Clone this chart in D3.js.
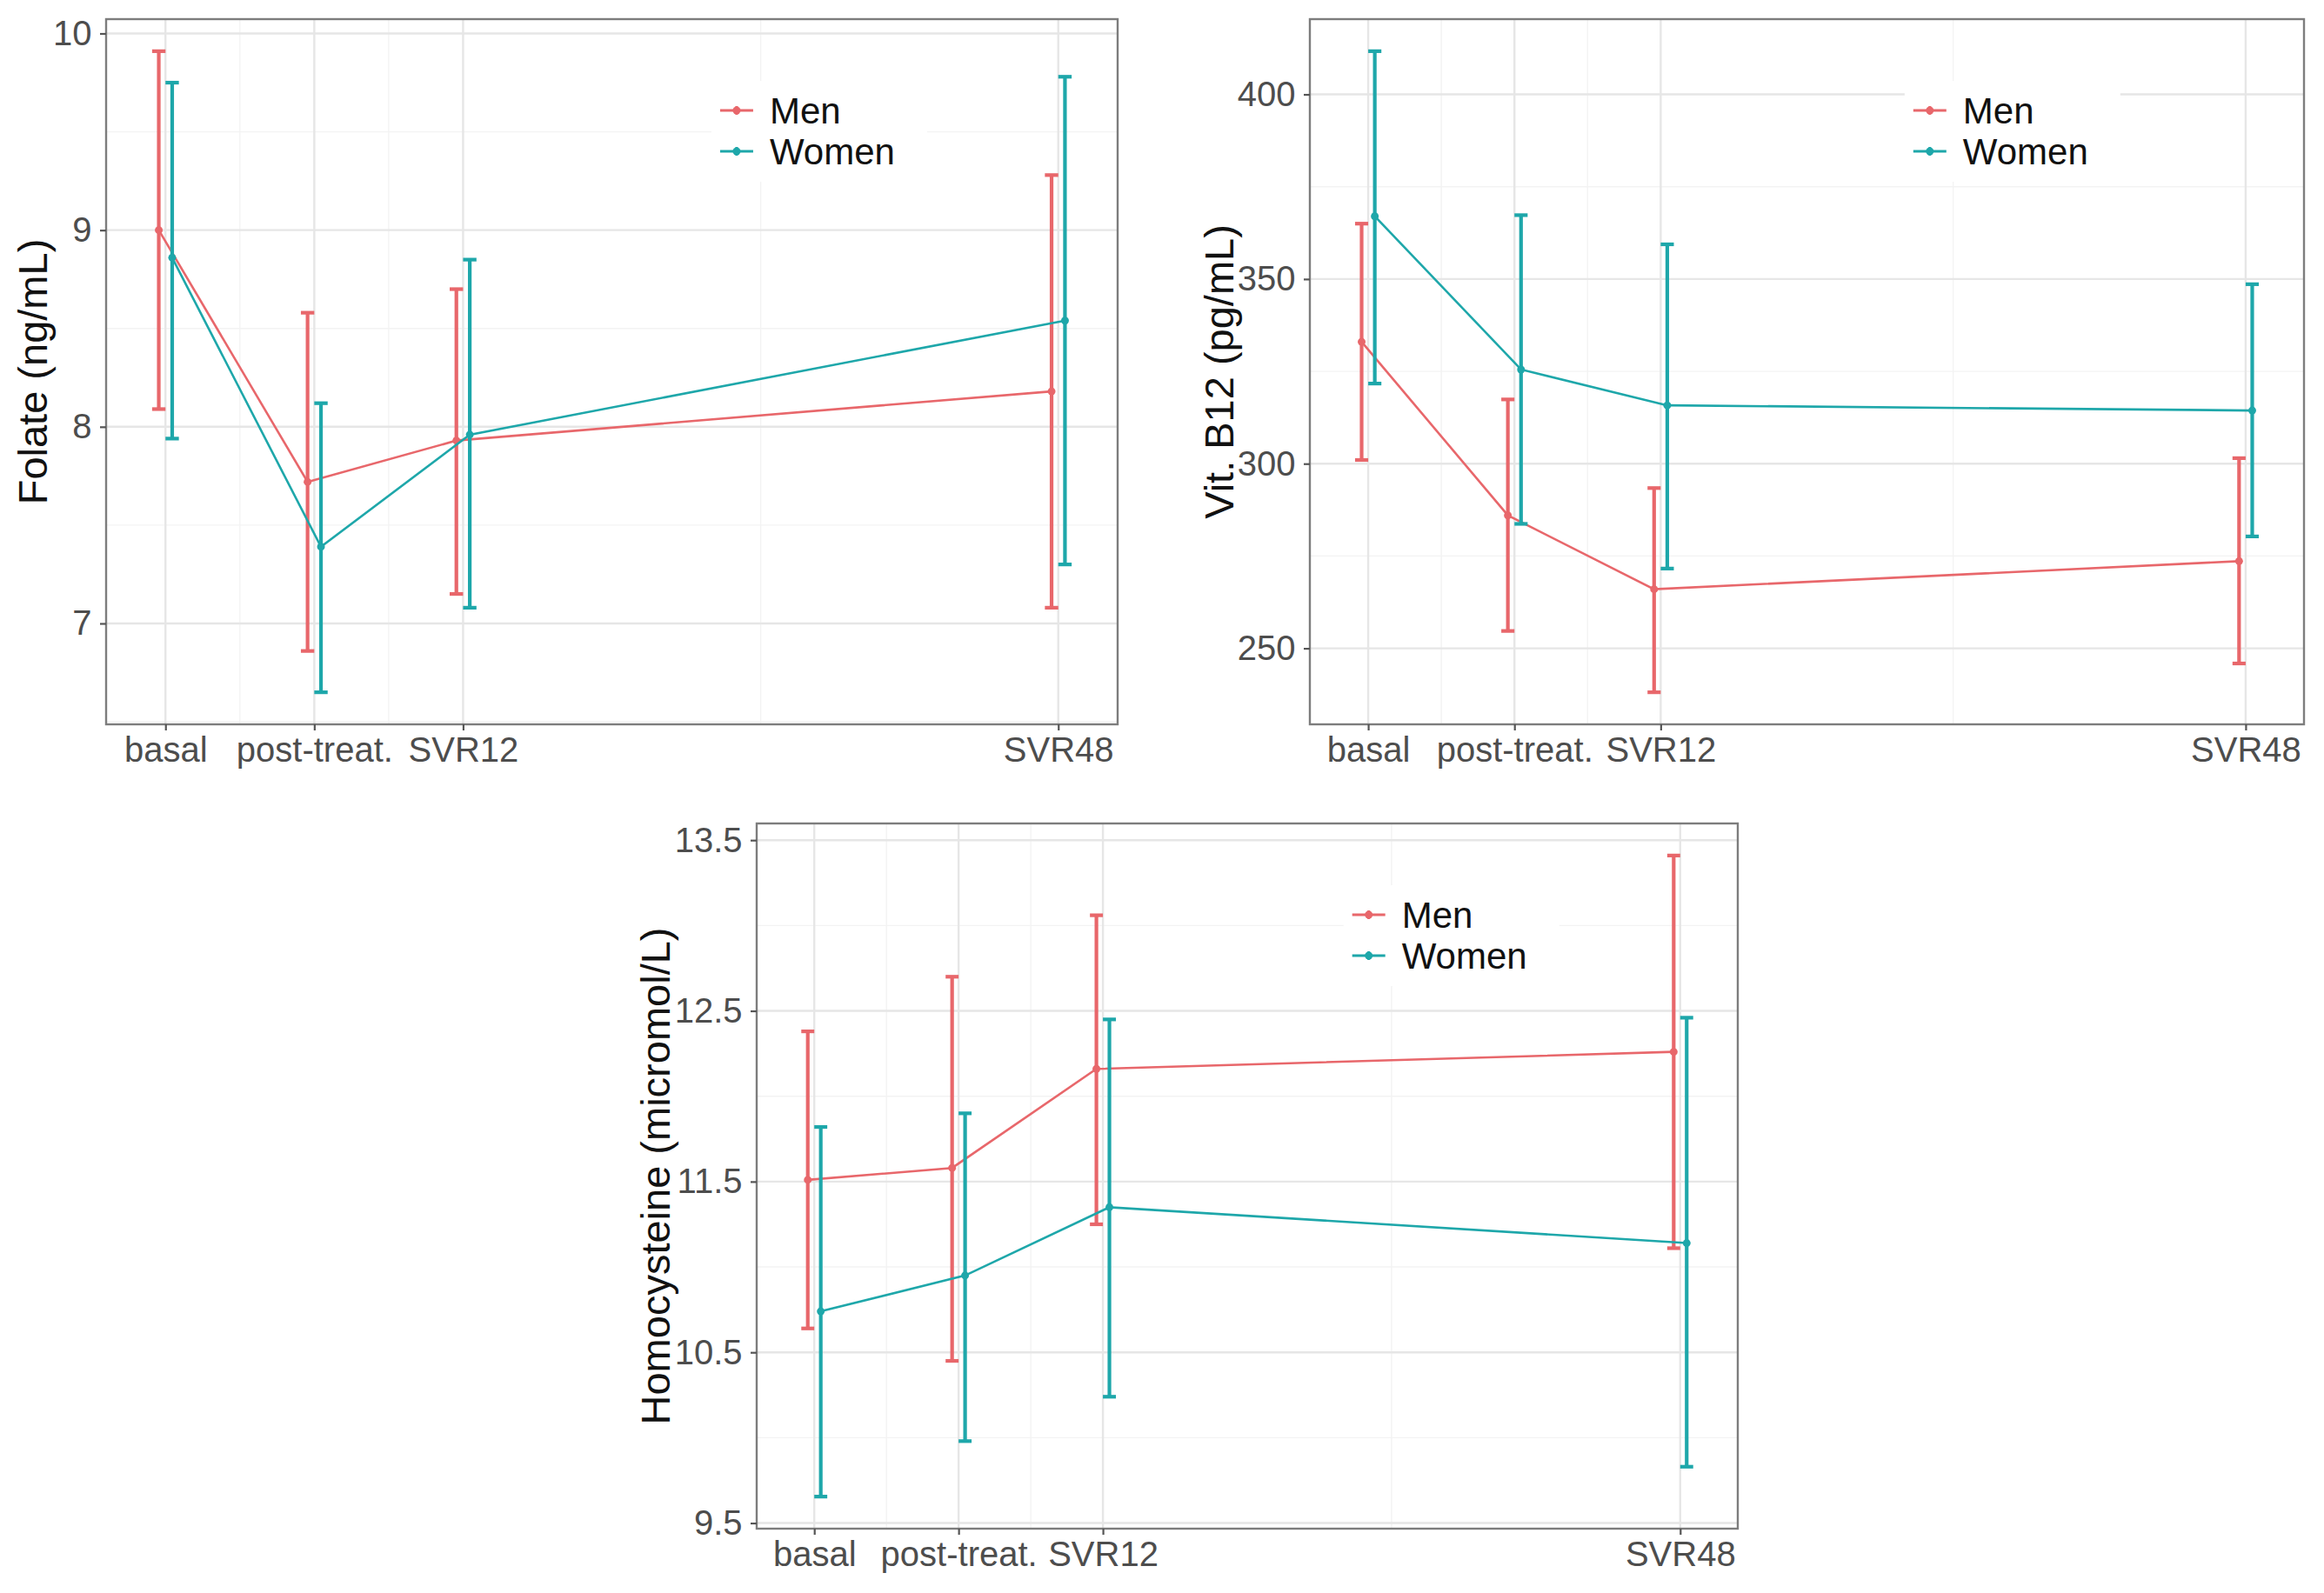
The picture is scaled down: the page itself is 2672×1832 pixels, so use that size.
<!DOCTYPE html>
<html>
<head>
<meta charset="utf-8">
<script src="https://cdn.jsdelivr.net/npm/d3@7"></script>
<style>
  html, body { margin: 0; padding: 0; background: #ffffff; }
  svg { display: block; }
  text { font-family: "Liberation Sans", Arial, Helvetica, sans-serif; }
</style>
</head>
<body>
<svg id="chart" width="2672" height="1832"></svg>
<script>
// ---------- DATA ----------
const timepoints = ["basal", "post-treat.", "SVR12", "SVR48"];
const timeValues = [0, 1, 2, 6];
const groups = ["Men", "Women"];

// Folate (ng/mL)
const folateMenMean    = [9.00, 7.72, 7.93, 8.18];
const folateMenLow     = [8.09, 6.86, 7.15, 7.08];
const folateMenHigh    = [9.91, 8.58, 8.70, 9.28];
const folateWomenMean  = [8.86, 7.39, 7.96, 8.54];
const folateWomenLow   = [7.94, 6.65, 7.08, 7.30];
const folateWomenHigh  = [9.75, 8.12, 8.85, 9.78];
const folateTicks      = [7, 8, 9, 10];

// Vit. B12 (pg/mL)
const b12MenMean   = [333.0, 286.0, 266.0, 273.6];
const b12MenLow    = [301.0, 254.7, 238.1, 245.9];
const b12MenHigh   = [365.0, 317.4, 293.4, 301.5];
const b12WomenMean = [367.0, 325.5, 315.8, 314.4];
const b12WomenLow  = [321.7, 283.7, 271.6, 280.3];
const b12WomenHigh = [411.7, 367.3, 359.4, 348.6];
const b12Ticks     = [250, 300, 350, 400];

// Homocysteine (micromol/L)
const hcyMenMean   = [11.51, 11.58, 12.16, 12.26];
const hcyMenLow    = [10.64, 10.45, 11.25, 11.11];
const hcyMenHigh   = [12.38, 12.70, 13.06, 13.41];
const hcyWomenMean = [10.74, 10.95, 11.35, 11.14];
const hcyWomenLow  = [9.655, 9.98, 10.24, 9.83];
const hcyWomenHigh = [11.82, 11.90, 12.45, 12.46];
const hcyTicks     = [9.5, 10.5, 11.5, 12.5, 13.5];

// ---------- STYLE / LAYOUT ----------
const colors = { Men: "#E8676B", Women: "#1EA7AA" };
const dodge = 0.045;      // half dodge offset (x units)
const capHalf = 0.045;    // errorbar cap half-width (x units)

const panels = [
  { box: {left: 122, right: 1285, top: 22, bottom: 833}, titleX: 37,
    title: "Folate (ng/mL)", fmt: d3.format("d"), ticks: folateTicks,
    series: { Men: [folateMenMean, folateMenLow, folateMenHigh],
              Women: [folateWomenMean, folateWomenLow, folateWomenHigh] } },
  { box: {left: 1506, right: 2649, top: 22, bottom: 833}, titleX: 1401,
    title: "Vit. B12 (pg/mL)", fmt: d3.format("d"), ticks: b12Ticks,
    series: { Men: [b12MenMean, b12MenLow, b12MenHigh],
              Women: [b12WomenMean, b12WomenLow, b12WomenHigh] } },
  { box: {left: 870, right: 1998, top: 947, bottom: 1758}, titleX: 753,
    title: "Homocysteine (micromol/L)", fmt: d3.format(".1f"), ticks: hcyTicks,
    series: { Men: [hcyMenMean, hcyMenLow, hcyMenHigh],
              Women: [hcyWomenMean, hcyWomenLow, hcyWomenHigh] } }
];

const svg = d3.select("#chart");
svg.append("rect").attr("width", 2672).attr("height", 1832).attr("fill", "#ffffff");

function expand(lo, hi, f) { const r = hi - lo; return [lo - r * f, hi + r * f]; }

panels.forEach(p => {
  const b = p.box;
  const g = svg.append("g");

  // y domain from data with 5% expansion (ggplot default)
  const allY = [];
  groups.forEach(k => { p.series[k][1].forEach(v => allY.push(v)); p.series[k][2].forEach(v => allY.push(v)); });
  const y = d3.scaleLinear().domain(expand(d3.min(allY), d3.max(allY), 0.05)).range([b.bottom, b.top]);
  const xMin = d3.min(timeValues) - dodge - capHalf, xMax = d3.max(timeValues) + dodge + capHalf;
  const x = d3.scaleLinear().domain(expand(xMin, xMax, 0.05)).range([b.left, b.right]);

  // grid
  const yStep = p.ticks[1] - p.ticks[0];
  const yMinor = [];
  for (let v = p.ticks[0] - yStep / 2; v <= p.ticks[p.ticks.length - 1] + yStep; v += yStep) {
    if (v > y.domain()[0] && v < y.domain()[1]) yMinor.push(v);
  }
  const xMinor = [];
  for (let i = 0; i < timeValues.length - 1; i++) xMinor.push((timeValues[i] + timeValues[i + 1]) / 2);

  const grid = g.append("g");
  grid.selectAll(".ymin").data(yMinor).join("line")
    .attr("x1", b.left).attr("x2", b.right).attr("y1", d => y(d)).attr("y2", d => y(d))
    .attr("stroke", "#f3f3f3").attr("stroke-width", 1.4);
  grid.selectAll(".xmin").data(xMinor).join("line")
    .attr("y1", b.top).attr("y2", b.bottom).attr("x1", d => x(d)).attr("x2", d => x(d))
    .attr("stroke", "#f3f3f3").attr("stroke-width", 1.4);
  grid.selectAll(".ymaj").data(p.ticks).join("line")
    .attr("x1", b.left).attr("x2", b.right).attr("y1", d => y(d)).attr("y2", d => y(d))
    .attr("stroke", "#e6e6e6").attr("stroke-width", 2.4);
  grid.selectAll(".xmaj").data(timeValues).join("line")
    .attr("y1", b.top).attr("y2", b.bottom).attr("x1", d => x(d)).attr("x2", d => x(d))
    .attr("stroke", "#e6e6e6").attr("stroke-width", 2.4);

  // series
  groups.forEach((k, gi) => {
    const [mean, lo, hi] = p.series[k];
    const off = gi === 0 ? -dodge : dodge;
    const pts = timeValues.map((t, i) => ({ x: t + off, m: mean[i], lo: lo[i], hi: hi[i] }));
    const sg = g.append("g");
    // error bars
    sg.selectAll(".eb").data(pts).join("line")
      .attr("x1", d => x(d.x)).attr("x2", d => x(d.x)).attr("y1", d => y(d.lo)).attr("y2", d => y(d.hi))
      .attr("stroke", colors[k]).attr("stroke-width", 4.2);
    sg.selectAll(".cap1").data(pts).join("line")
      .attr("x1", d => x(d.x - capHalf)).attr("x2", d => x(d.x + capHalf)).attr("y1", d => y(d.lo)).attr("y2", d => y(d.lo))
      .attr("stroke", colors[k]).attr("stroke-width", 4.2);
    sg.selectAll(".cap2").data(pts).join("line")
      .attr("x1", d => x(d.x - capHalf)).attr("x2", d => x(d.x + capHalf)).attr("y1", d => y(d.hi)).attr("y2", d => y(d.hi))
      .attr("stroke", colors[k]).attr("stroke-width", 4.2);
    // connecting line
    sg.append("path").datum(pts)
      .attr("d", d3.line().x(d => x(d.x)).y(d => y(d.m)))
      .attr("fill", "none").attr("stroke", colors[k]).attr("stroke-width", 2.6);
    // points
    sg.selectAll(".pt").data(pts).join("circle")
      .attr("cx", d => x(d.x)).attr("cy", d => y(d.m)).attr("r", 4.5)
      .attr("fill", colors[k]);
  });

  // border
  g.append("rect").attr("x", b.left).attr("y", b.top)
    .attr("width", b.right - b.left).attr("height", b.bottom - b.top)
    .attr("fill", "none").attr("stroke", "#7d7d7d").attr("stroke-width", 2.4);

  // axes
  const yAxis = g.append("g").attr("transform", `translate(${b.left},0)`)
    .call(d3.axisLeft(y).tickValues(p.ticks).tickFormat(p.fmt).tickSize(7).tickPadding(9.5));
  const xAxis = g.append("g").attr("transform", `translate(0,${b.bottom})`)
    .call(d3.axisBottom(x).tickValues(timeValues).tickFormat((d, i) => timepoints[i]).tickSize(7).tickPadding(8));
  [yAxis, xAxis].forEach(a => {
    a.select(".domain").remove();
    a.selectAll(".tick line").attr("stroke", "#555555").attr("stroke-width", 2.2);
    a.selectAll(".tick text").attr("fill", "#4d4d4d").style("font-size", "40px")
      .style("font-family", '"Liberation Sans", Arial, sans-serif');
  });

  // y title
  g.append("text")
    .attr("transform", `translate(${p.titleX},${(b.top + b.bottom) / 2}) rotate(-90)`)
    .attr("text-anchor", "middle").attr("dominant-baseline", "central")
    .attr("fill", "#111111").style("font-size", "47px")
    .text(p.title);

  // legend
  const lx = b.left + 0.607 * (b.right - b.left);
  const ly = b.top + 105;
  const lg = g.append("g");
  lg.append("rect").attr("x", lx - 10).attr("y", ly - 34)
    .attr("width", 248).attr("height", 116).attr("fill", "#ffffff");
  groups.forEach((k, i) => {
    const cy = ly + i * 47;
    lg.append("line").attr("x1", lx).attr("x2", lx + 38).attr("y1", cy).attr("y2", cy)
      .attr("stroke", colors[k]).attr("stroke-width", 3.2);
    lg.append("circle").attr("cx", lx + 19).attr("cy", cy).attr("r", 4.5).attr("fill", colors[k]);
    lg.append("line").attr("x1", lx + 19).attr("x2", lx + 19).attr("y1", cy - 5).attr("y2", cy + 5)
      .attr("stroke", colors[k]).attr("stroke-width", 3);
    lg.append("text").attr("x", lx + 57).attr("y", cy)
      .attr("dominant-baseline", "central").attr("fill", "#111111")
      .style("font-size", "42px").text(k);
  });
});
</script>
</body>
</html>
